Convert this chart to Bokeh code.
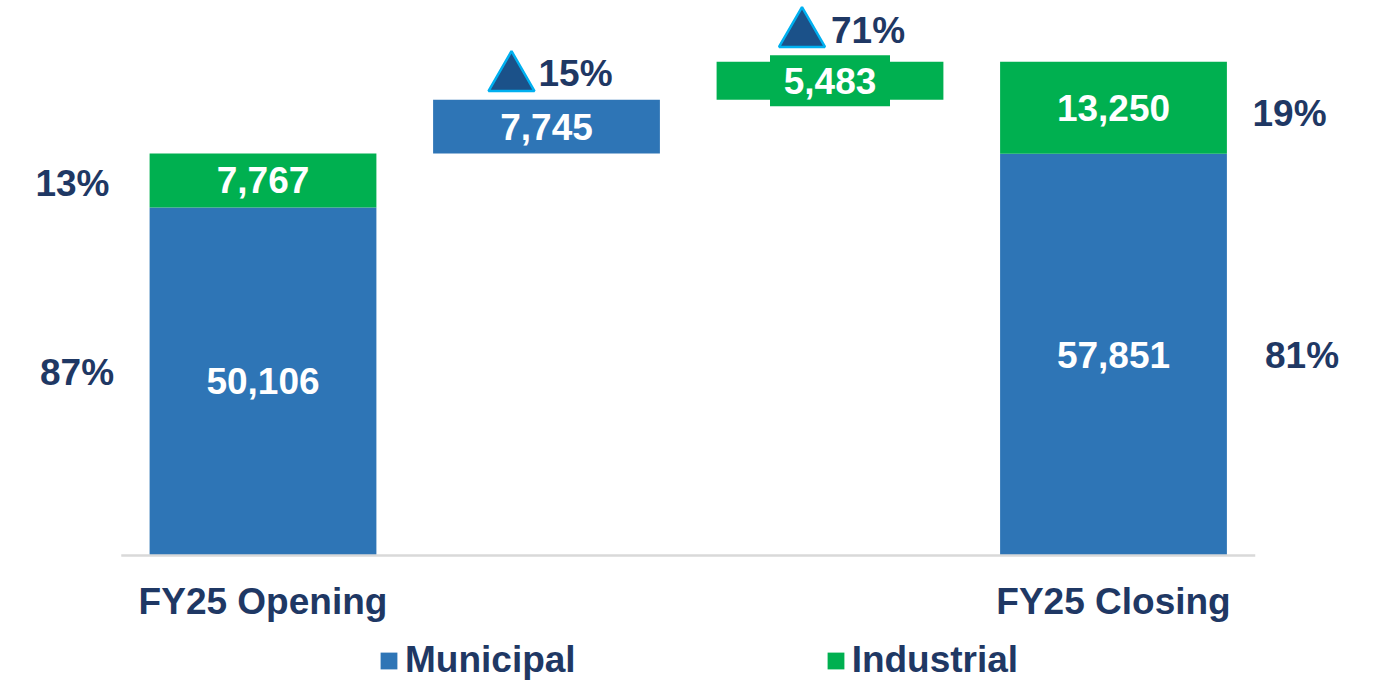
from bokeh.plotting import figure
from bokeh.models import Range1d, Legend, LegendItem, ColumnDataSource
from bokeh.core.properties import value
from bokeh.embed import file_html
from bokeh.resources import INLINE

# ---------------- data ----------------
categories = ["FY25 Opening", "Municipal increase", "Industrial increase", "FY25 Closing"]
cat_labels = ["FY25 Opening", "", "", "FY25 Closing"]
opening_municipal = 50106
opening_industrial = 7767
municipal_increase = 7745
industrial_increase = 5483
closing_municipal = 57851
closing_industrial = 13250
opening_shares = ["87%", "13%"]          # municipal, industrial
closing_shares = ["81%", "19%"]          # municipal, industrial
increase_pcts = ["15%", "71%"]           # municipal, industrial growth
series_names = ["Municipal", "Industrial"]

# ---------------- style ----------------
BLUE = "#2E75B6"
GREEN = "#00B050"
NAVY = "#1F3864"
TRI_FILL = "#1B5189"
TRI_LINE = "#00B0F0"
FONT = "Liberation Sans"
FS = "37px"

W, H = 1376, 681
X_PX = 283.5                     # pixels per category
X0 = -262.5 / X_PX
UPP = 143.97                     # data units per pixel (y)
BASE_PX = 555                    # baseline px from top
Y_END = BASE_PX * UPP
Y_START = -(H - BASE_PX) * UPP

p = figure(width=W, height=H, output_backend="svg", toolbar_location=None,
           x_range=Range1d(X0, X0 + W / X_PX), y_range=Range1d(Y_START, Y_END),
           min_border=0)
p.axis.visible = False
p.grid.visible = False
p.outline_line_color = None
p.background_fill_color = "white"

xs = list(range(len(categories)))
bw = 0.8

# ---------------- bars ----------------
open_total = opening_municipal + opening_industrial
mun_src = ColumnDataSource(dict(
    x=[xs[0], xs[1], xs[3]],
    bottom=[0, open_total, 0],
    top=[opening_municipal, open_total + municipal_increase, closing_municipal]))
ind_bottoms = [opening_municipal, open_total + municipal_increase, closing_municipal]
ind_src = ColumnDataSource(dict(
    x=[xs[0], xs[2], xs[3]],
    bottom=ind_bottoms,
    top=[open_total, open_total + municipal_increase + industrial_increase,
         closing_municipal + closing_industrial]))

mun_r = p.vbar(x="x", bottom="bottom", top="top", width=bw, source=mun_src,
               fill_color=BLUE, line_color=None)
ind_r = p.vbar(x="x", bottom="bottom", top="top", width=bw, source=ind_src,
               fill_color=GREEN, line_color=None)

# baseline
p.segment(x0=[-0.5], x1=[len(categories) - 0.5], y0=[0], y1=[0],
          line_color="#D9D9D9", line_width=2.5)

# label box for the thin industrial increase bar
ind_mid = open_total + municipal_increase + industrial_increase / 2
p.rect(x=[xs[2]], y=[ind_mid], width=120, height=51, width_units="screen",
       height_units="screen", fill_color=GREEN, line_color=None)

# ---------------- value labels ----------------
all_x = mun_src.data["x"] + ind_src.data["x"]
all_mid = [(b + t) / 2 for b, t in zip(mun_src.data["bottom"] + ind_src.data["bottom"],
                                       mun_src.data["top"] + ind_src.data["top"])]
vals = [opening_municipal, municipal_increase, closing_municipal,
        opening_industrial, industrial_increase, closing_industrial]
p.text(x=all_x, y=all_mid, text=[f"{v:,}" for v in vals],
       text_align="center", text_baseline="middle", text_color="white",
       text_font=value(FONT), text_font_style="bold", text_font_size=FS)

# ---------------- share labels ----------------
share_x = [-0.656, -0.672, 3.665, 3.621]
share_y = [opening_municipal / 2, opening_municipal + opening_industrial / 2,
           closing_municipal / 2, closing_municipal + closing_industrial / 2]
share_dy = [-9, 3, 1, 6]
p.text(x=share_x, y=share_y, y_offset=share_dy,
       text=opening_shares + closing_shares,
       text_align="center", text_baseline="middle", text_color=NAVY,
       text_font=value(FONT), text_font_style="bold", text_font_size=FS)

# ---------------- increase markers ----------------
inc_x = [xs[1], xs[2]]
inc_tops = [open_total + municipal_increase,
            open_total + municipal_increase + industrial_increase]
tri_gap = [22, 28]
txt_gap = [26, 31]
tri_dx = [-35, -28]
txt_dx = [-8, 1]
p.scatter(x=[x + d / X_PX for x, d in zip(inc_x, tri_dx)],
          y=[t + g * UPP for t, g in zip(inc_tops, tri_gap)],
          marker="triangle", size=46, fill_color=TRI_FILL,
          line_color=TRI_LINE, line_width=2.5)
p.text(x=[x + d / X_PX for x, d in zip(inc_x, txt_dx)],
       y=[t + g * UPP for t, g in zip(inc_tops, txt_gap)],
       text=increase_pcts, text_align="left", text_baseline="middle",
       text_color=NAVY, text_font=value(FONT), text_font_style="bold",
       text_font_size=FS)

# ---------------- category labels ----------------
p.text(x=xs, y=[-46 * UPP] * len(xs), text=cat_labels,
       text_align="center", text_baseline="middle", text_color=NAVY,
       text_font=value(FONT), text_font_style="bold", text_font_size=FS)

# ---------------- legend ----------------
legend = Legend(items=[LegendItem(label=series_names[0], renderers=[mun_r]),
                       LegendItem(label=series_names[1], renderers=[ind_r])],
                orientation="horizontal", location=(378, 0),
                padding=0, margin=0, spacing=249, glyph_width=21,
                glyph_height=21, label_standoff=6,
                label_text_font=FONT, label_text_font_style="bold",
                label_text_font_size=FS, label_text_color=NAVY,
                border_line_color=None, background_fill_alpha=0)
p.add_layout(legend)

open("out.html", "w").write(file_html(p, INLINE))
